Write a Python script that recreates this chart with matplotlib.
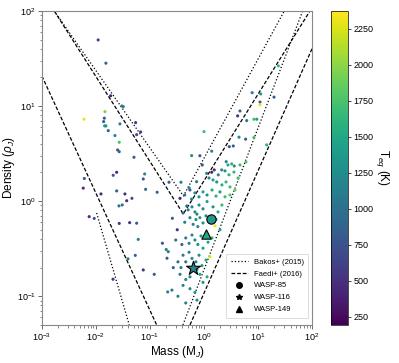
import matplotlib.pyplot as plt
import numpy as np
from matplotlib.lines import Line2D

plt.rcParams['font.family'] = ['Liberation Sans', 'DejaVu Sans']
plt.rcParams['mathtext.fontset'] = 'custom'
plt.rcParams['mathtext.rm'] = 'Liberation Sans'
plt.rcParams['mathtext.it'] = 'Liberation Sans:italic'

# known planets: mass (M_J), density (rho_J), T_eq (K)
mass = [0.0110, 0.0153, 0.0187, 0.0303, 0.0321, 0.0060, 0.0147, 0.0143, 0.0139, 0.0145,
        0.0153, 0.0169, 0.0278, 0.0543, 0.0673, 0.0567, 0.0225, 0.0270, 0.0252, 0.0270,
        0.0506, 0.591, 0.0242, 0.0209, 0.0798, 0.0061, 0.0752,
        0.00582, 0.0124, 0.0242, 0.0344, 0.0464, 0.0371, 0.0832, 0.136, 0.0267, 0.0307,
        0.0075, 0.0093, 0.0270, 0.0421, 0.0567, 0.0607, 0.170, 0.218, 0.207, 0.0392,
        0.0535, 0.0752, 0.120, 0.0207, 0.213,
        23.8, 7.8, 11.2, 10.9, 10.9, 19.8, 4.64, 4.2, 6.18, 8.4, 9.5, 5.9, 4.45, 8.4,
        3.49, 2.94, 1.0, 14.5,
        0.84, 0.93, 1.39, 2.58, 2.78, 3.26, 3.64, 4.64, 6.0,
        1.12, 1.39, 1.55, 1.84, 2.13, 2.45, 2.90, 3.59, 4.26, 0.73, 1.24, 1.47, 1.72,
        2.15, 2.56, 3.03, 3.75,
        0.55, 0.375, 0.225, 0.44, 0.53, 0.68, 0.81, 0.96, 1.14, 1.41, 1.67, 1.98, 2.45,
        3.03, 0.36, 0.59,
        0.48, 0.51, 0.60, 0.68, 0.81, 0.96, 1.14, 1.47, 1.82, 2.15, 0.74, 0.26, 0.41,
        0.32, 0.44, 0.55, 0.63, 0.71, 0.77, 0.84, 0.96, 1.09, 1.60, 1.67, 1.98,
        0.46, 0.53, 0.60, 0.68, 0.77, 0.88, 0.96, 1.19, 1.41, 0.39, 0.20, 0.30,
        0.41, 0.46, 0.53, 0.60, 0.71, 0.81, 0.92, 1.09, 1.29, 0.33, 0.27, 0.375,
        0.36, 0.46, 0.55, 0.74, 0.84, 0.96, 1.14, 0.41, 0.55, 0.33, 0.68, 0.74, 0.46, 0.255]
density = [49.5, 28.2, 12.8, 10.0, 9.86, 7.27, 8.73, 7.45, 6.86, 6.18,
           6.18, 5.51, 6.49, 6.69, 5.34, 5.00, 4.89, 4.16, 3.45, 3.31,
           2.89, 3.01, 2.01, 1.87, 1.93, 1.73, 1.71,
           1.37, 1.19, 1.28, 1.19, 1.07, 1.01, 1.33, 1.24, 0.891, 0.912,
           0.687, 0.658, 0.583, 0.594, 0.586, 0.396, 0.361, 0.294, 0.251, 0.247,
           0.269, 0.189, 0.170, 0.151, 0.111,
           26.4, 13.8, 13.4, 11.0, 10.3, 12.4, 8.87, 7.87, 7.03, 7.26, 7.26, 4.48, 4.70, 4.66,
           3.80, 3.74, 5.38, 3.90,
           3.0, 2.40, 3.35, 2.60, 2.40, 2.46, 2.34, 2.40, 2.58,
           1.96, 2.01, 2.13, 1.89, 2.13, 2.08, 1.89, 2.02, 1.75, 1.60, 1.75, 1.67, 1.59,
           1.48, 1.59, 1.41, 1.31,
           1.31, 1.58, 1.58, 1.16, 1.38, 1.22, 1.11, 1.25, 1.16, 1.31, 1.13, 1.25, 1.11,
           1.16, 1.07, 1.05,
           0.89, 0.81, 0.87, 0.77, 0.91, 0.83, 0.99, 0.87, 0.77, 0.91, 0.73, 0.66, 0.75,
           0.50, 0.60, 0.67, 0.57, 0.64, 0.54, 0.67, 0.59, 0.70, 0.55, 0.64, 0.50,
           0.41, 0.36, 0.44, 0.39, 0.35, 0.43, 0.32, 0.37, 0.41, 0.35, 0.31, 0.39,
           0.27, 0.23, 0.29, 0.25, 0.23, 0.27, 0.21, 0.24, 0.26, 0.23, 0.20, 0.20,
           0.17, 0.15, 0.16, 0.19, 0.17, 0.14, 0.16, 0.13, 0.12, 0.10, 0.11, 0.091, 0.085, 0.116]
teq = [600, 900, 400, 1100, 1150, 2300, 1950, 800, 850, 1400,
       1300, 850, 1150, 550, 600, 700, 1200, 1750, 800, 900,
       800, 1200, 450, 800, 1200, 800, 800,
       500, 450, 800, 500, 700, 500, 950, 900, 1000, 1050,
       500, 800, 550, 500, 850, 1100, 750, 1100, 800, 1000,
       850, 500, 850, 550, 1100,
       1650, 1150, 1300, 800, 2300, 800, 900, 500, 1050, 1700, 1400, 850, 1200, 1700,
       800, 700, 1700, 1600,
       800, 750, 1200, 1150, 1500, 1600, 1250, 1700, 1800,
       1150, 450, 500, 1200, 1250, 1300, 1600, 1650, 1750, 1100, 1200, 1450, 1300,
       1550, 1650, 1700, 1900,
       800, 1100, 800, 1050, 1150, 1200, 1250, 1450, 1300, 1500, 1600, 1350, 1700,
       1800, 400, 1100,
       1050, 1150, 1200, 1250, 1300, 1200, 1450, 1300, 1550, 1650, 1150, 850, 900,
       500, 1100, 1150, 1200, 1250, 1200, 1400, 1300, 1250, 2300, 1600, 1500,
       1100, 1150, 1200, 1150, 1250, 1300, 1450, 1500, 1600, 900, 1100, 1000,
       1100, 1050, 1150, 1200, 1100, 1250, 1400, 1500, 2250, 1000, 850, 1100,
       1100, 1150, 1200, 1450, 1500, 1300, 1550, 1150, 1200, 1150, 1400, 1300, 1150, 1100]

# WASP planets
wasp_names = ['WASP-85', 'WASP-116', 'WASP-149']
wasp_mass = [1.35, 0.634, 1.07]
wasp_density = [0.645, 0.197, 0.452]
wasp_teq = [1350, 1150, 1500]
wasp_markers = ['o', '*', '^']
wasp_sizes = [45, 110, 45]

# desert boundaries
bakos_upper_m = [0.00169, 0.417, 30.7]
bakos_upper_rho = [100, 1.135, 100]
bakos_lower_left_m = [0.0103, 0.0414]
bakos_lower_left_rho = [0.751, 0.05]
bakos_lower_right_m = [0.408, 67.3]
bakos_lower_right_rho = [0.05, 100]

faedi_upper_m = [0.00169, 0.414, 91.8]
faedi_upper_rho = [100, 0.733, 100]
faedi_lower_left_m = [0.001, 0.133]
faedi_lower_left_rho = [20.7, 0.05]
faedi_lower_right_m = [0.551, 100]
faedi_lower_right_rho = [0.05, 40]

vmin, vmax = 195, 2375

fig = plt.figure(figsize=(3.99, 3.63), dpi=100)
ax = fig.add_axes([0.105, 0.105, 0.677, 0.865])
cax = fig.add_axes([0.8296, 0.105, 0.042, 0.865])

dot = dict(color='k', lw=0.9, ls=':')
dash = dict(color='k', lw=0.9, ls=(0, (3, 1.5)))
ax.plot(bakos_upper_m, bakos_upper_rho, **dot)
ax.plot(bakos_lower_left_m, bakos_lower_left_rho, **dot)
ax.plot(bakos_lower_right_m, bakos_lower_right_rho, **dot)
ax.plot(faedi_upper_m, faedi_upper_rho, **dash)
ax.plot(faedi_lower_left_m, faedi_lower_left_rho, **dash)
ax.plot(faedi_lower_right_m, faedi_lower_right_rho, **dash)

sc = ax.scatter(mass, density, c=teq, cmap='viridis', vmin=vmin, vmax=vmax,
                s=5, linewidths=0, zorder=3)
for m, r, t, mk, sz in zip(wasp_mass, wasp_density, wasp_teq, wasp_markers, wasp_sizes):
    ax.scatter([m], [r], c=[t], cmap='viridis', vmin=vmin, vmax=vmax, marker=mk,
               s=sz, edgecolors='k', linewidths=0.8, zorder=4)

ax.set_xscale('log')
ax.set_yscale('log')
ax.set_xlim(1e-3, 1e2)
ax.set_ylim(0.05, 100)
ax.set_xlabel('Mass (M$_J$)', fontsize=8.5, labelpad=1)
ax.set_ylabel(r'Density ($\rho_J$)', fontsize=8.5, labelpad=0)
ax.tick_params(which='both', direction='out', color='#555555', labelsize=6.5, pad=1.5)
ax.tick_params(which='major', length=3, width=0.6)
ax.tick_params(which='minor', length=1.8, width=0.5)
for s in ax.spines.values():
    s.set_color('#888888')
    s.set_linewidth(0.8)

handles = [Line2D([], [], **dot), Line2D([], [], **dash)]
handles += [Line2D([], [], marker=mk, color='k', ls='none', markersize=4)
            for mk in wasp_markers]
labels = ['Bakos+ (2015)', 'Faedi+ (2016)'] + wasp_names
leg = ax.legend(handles, labels, loc='lower right', fontsize=5.5, frameon=True,
                fancybox=False, handlelength=2.2, borderpad=0.6, labelspacing=0.6,
                bbox_to_anchor=(1.0, 0.01))
leg.get_frame().set_edgecolor('#cccccc')
leg.get_frame().set_linewidth(0.6)

cb = fig.colorbar(sc, cax=cax)
cb.set_ticks([250, 500, 750, 1000, 1250, 1500, 1750, 2000, 2250])
cb.ax.tick_params(labelsize=6.5, length=2.5, width=0.5, pad=1.5)
cb.outline.set_linewidth(0.5)
cb.set_label('T$_{eq}$ (K)', rotation=270, fontsize=8.5, labelpad=13)

fig.savefig('out.png', dpi=100)
